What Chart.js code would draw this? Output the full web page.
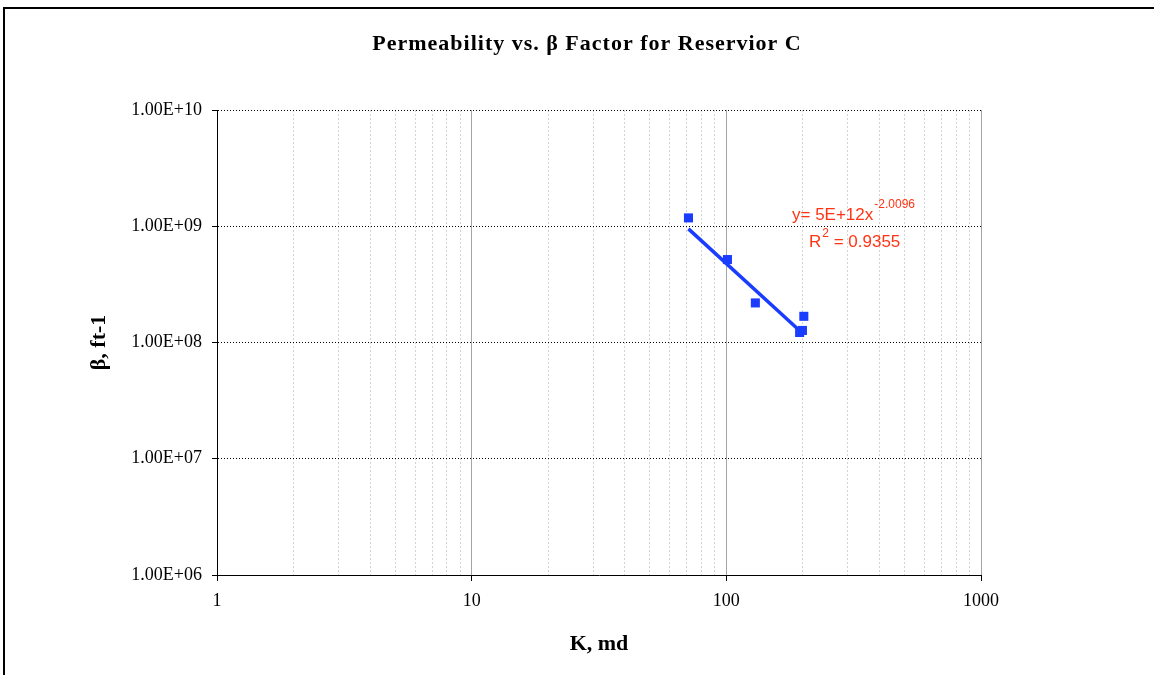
<!DOCTYPE html>
<html>
<head>
<meta charset="utf-8">
<title>Permeability vs. β Factor</title>
<script src="https://cdn.jsdelivr.net/npm/chart.js@4.4.0/dist/chart.umd.min.js"></script>
<style>
    html, body { margin: 0; padding: 0; background: #fff; overflow: hidden; }
    #wrap { position: relative; width: 1154px; height: 675px; }
    #wrap canvas { position: absolute; left: 0; top: 0; }
    #frame { position: absolute; left: 3px; top: 7px; width: 1200px; height: 720px;
             border-left: 2px solid #000; border-top: 2px solid #000; pointer-events: none; }
</style>
</head>
<body>
<div id="wrap">
    <canvas id="permChart" width="1154" height="675"></canvas>
    <div id="frame"></div>
</div>
<script>
// Reservoir C core measurements: permeability K (md) and beta factor (ft-1)
const permK = [71, 101, 130, 201.5, 194, 199];
const betaFt = [1.18e9, 5.17e8, 2.19e8, 1.68e8, 1.22e8, 1.27e8];

// Power trendline y = 5E+12 x^-2.0096, drawn over the span of the data
const trendK = [71, 201.5];
const trendBeta = [9.5e8, 1.17e8];
const trendEq = 'y= 5E+12x';
const trendExp = '-2.0096';
const trendR2 = '0.9355';

// Axis ticks
const xMajorTicks = [1, 10, 100, 1000];
const xTickLabels = ['1', '10', '100', '1000'];
const xMinorTicks = [2, 3, 4, 5, 6, 7, 8, 9, 20, 30, 40, 50, 60, 70, 80, 90, 200, 300, 400, 500, 600, 700, 800, 900];
const yMajorTicks = [1e6, 1e7, 1e8, 1e9, 1e10];
const yTickLabels = ['1.00E+06', '1.00E+07', '1.00E+08', '1.00E+09', '1.00E+10'];

const chartTitle = 'Permeability vs. β Factor for Reservior C';

const BLUE = '#1a3cff';
const RED = '#ff3414';
const serif = "'Liberation Serif', 'Times New Roman', serif";
const tickFont = { family: serif, size: 18 };
const axisTitleFont = { family: serif, size: 22, weight: 'bold' };

const points = permK.map((k, i) => ({ x: k, y: betaFt[i] }));
const trendPts = trendK.map((k, i) => ({ x: k, y: trendBeta[i] }));

// Title and trendline equation
const textLayer = {
    id: 'textLayer',
    afterDraw(chart) {
        const { ctx, chartArea: a } = chart;
        ctx.save();
        ctx.fillStyle = '#000';
        ctx.font = 'bold 22px ' + serif;
        ctx.letterSpacing = '1px';
        ctx.textAlign = 'center';
        ctx.textBaseline = 'middle';
        ctx.fillText(chartTitle, (a.left + a.right) / 2 - 12, 44);
        ctx.letterSpacing = '0px';

        ctx.fillStyle = RED;
        ctx.textAlign = 'left';
        ctx.textBaseline = 'alphabetic';
        const big = "17px 'Liberation Sans Narrow', 'Liberation Sans', sans-serif";
        const small = "12px 'Liberation Sans Narrow', 'Liberation Sans', sans-serif";
        let x = 792;
        ctx.font = big;
        ctx.fillText(trendEq, x, 220);
        x += ctx.measureText(trendEq).width + 1;
        ctx.font = small;
        ctx.fillText(trendExp, x, 208);

        x = 809;
        ctx.font = big;
        ctx.fillText('R', x, 247);
        x += ctx.measureText('R').width + 1;
        ctx.font = small;
        ctx.fillText('2', x, 237);
        x += ctx.measureText('2').width;
        ctx.font = big;
        ctx.fillText(' = ' + trendR2, x, 247);
        ctx.restore();
    }
};

new Chart(document.getElementById('permChart').getContext('2d'), {
    type: 'scatter',
    data: {
        datasets: [
            { label: 'Power trend', data: trendPts, showLine: true, borderColor: BLUE, borderWidth: 3.5,
              pointRadius: 0, order: 0 },
            { label: 'β', data: points, backgroundColor: BLUE, borderWidth: 0, pointStyle: 'rect',
              pointRadius: 6.4, order: 1 }
        ]
    },
    options: {
        animation: false, responsive: false, devicePixelRatio: 1,
        layout: { padding: { left: 0, top: 110, right: 173, bottom: 0 } },
        plugins: { legend: { display: false }, tooltip: { enabled: false } },
        scales: {
            x: {
                type: 'logarithmic', position: 'bottom', min: 1, max: 1000,
                afterBuildTicks: s => { s.ticks = xMajorTicks.map(v => ({ value: v, major: true })); },
                afterFit: s => { s.height = 100; },
                ticks: { callback: (v, i) => xTickLabels[i], color: '#000', font: tickFont, padding: 9,
                         maxRotation: 0, autoSkip: false },
                grid: { color: c => (c.tick && c.tick.value === 1) ? 'rgba(0,0,0,0)' : '#a4a4a4',
                        tickColor: '#000', tickLength: 6 },
                border: { color: '#000', width: 1 },
                title: { display: true, text: 'K, md', color: '#000', font: axisTitleFont,
                         padding: { top: 0, bottom: 17 } }
            },
            xMinor: {
                type: 'logarithmic', position: 'bottom', min: 1, max: 1000,
                afterBuildTicks: s => { s.ticks = xMinorTicks.map(v => ({ value: v })); },
                afterFit: s => { s.height = 0; },
                ticks: { display: false },
                grid: { color: '#d2d2d2', drawTicks: false },
                border: { display: false, dash: [2, 2] }
            },
            y: {
                type: 'logarithmic', position: 'left', min: 1e6, max: 1e10,
                afterBuildTicks: s => { s.ticks = yMajorTicks.map(v => ({ value: v, major: true })); },
                afterFit: s => { s.width = 217; },
                ticks: { callback: (v, i) => yTickLabels[i], color: '#000', font: tickFont, padding: 10 },
                grid: { color: c => (c.tick && c.tick.value === 1e6) ? 'rgba(0,0,0,0)' : '#000',
                        tickColor: '#000', tickLength: 5 },
                border: { color: '#000', width: 1, dash: [1, 2] },
                title: { display: true, text: 'β, ft-1', color: '#000', font: axisTitleFont,
                         padding: { top: 86, bottom: 0 } }
            }
        }
    },
    plugins: [textLayer]
});
</script>
</body>
</html>
